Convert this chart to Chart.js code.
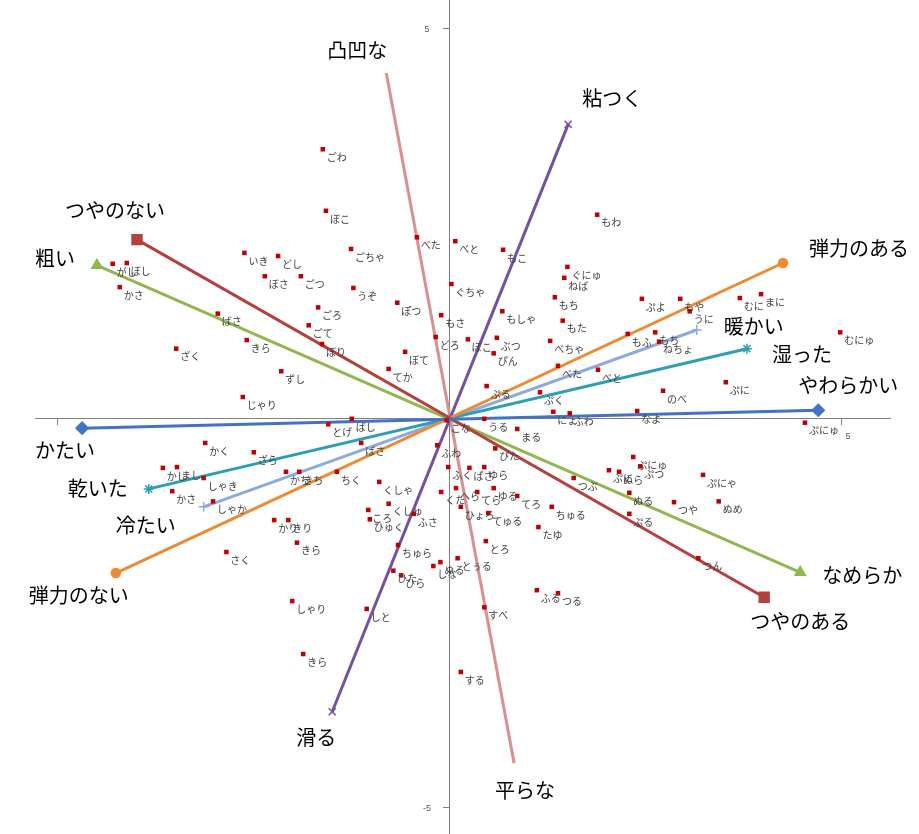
<!DOCTYPE html>
<html>
<head>
<meta charset="utf-8">
<script src="https://cdn.jsdelivr.net/npm/chart.js@4"></script>
<style>
  body { margin: 0; background: #fff; }
  #wrap { width: 919px; height: 834px; }
</style>
</head>
<body>
<div id="wrap"><canvas id="biplot"></canvas></div>
<script>
// 語のスコア (第1軸, 第2軸)
var words = ['ごわ','ぼこ','ごちゃ','べた','べと','ぐちゃ','ごつ','うぞ','いき','どし',
  'がし','ぼし','かさ','ぼさ','ごろ','ごて','ぼり','ばさ','きら','ざく',
  'ずし','じゃり','ぽつ','もさ','どろ','ぼこ','ぶつ','ぴん','ぼて','てか',
  'ぷる','ぷく','もしゃ','もち','もた','べちゃ','もわ','もこ','ぐにゅ','ねば',
  'ぷよ','もふ','べた','べと','もや','うに','むに','まに','もち','ねちょ',
  'むにゅ','ぷに','のべ','なよ','ぷにゅ','にょ','ふわ','うる','こな','かく',
  'ざら','かし','まし','しゃき','かさ','しゃか','かち','きち','かり','きり',
  'きら','さく','ちく','とげ','ばし','ばさ','くしゃ','くしゅ','ころ','ひゅく',
  'ふさ','ちゅら','ひた','ひら','しと','しゃり','きら','ふわ','まる','ぴた',
  'ふく','ぱさ','ゆら','くた','へら','てら','ゆる','てろ','ひょろ','てゅる',
  'ちゅる','たゆ','とろ','しな','ぬる','とぅる','ふる','つる','すべ','する',
  'つぶ','ぷにゅ','ぷに','ぬら','ぷつ','ぬる','ぷる','つや','ぷにゃ','ぬめ','つん'];
var wordX = [-1.61,-1.57,-1.25,-0.41,0.08,0.03,-1.89,-1.22,-2.61,-2.18,
  -4.29,-4.11,-4.20,-2.35,-1.67,-1.79,-1.62,-2.95,-2.58,-3.48,
  -2.14,-2.63,-0.66,-0.10,-0.17,0.24,0.61,0.57,-0.56,-0.77,
  0.48,1.16,0.68,1.35,1.45,1.29,1.89,0.69,1.51,1.47,
  2.46,2.28,1.39,1.90,2.95,3.07,3.71,3.98,2.63,2.68,
  4.99,3.53,2.73,2.40,4.54,1.33,1.54,0.45,-0.03,-3.11,
  -2.49,-3.65,-3.47,-3.13,-3.53,-3.01,-2.08,-1.91,-2.23,-2.05,
  -1.94,-2.84,-1.43,-1.54,-1.24,-1.12,-0.89,-0.77,-1.03,-1.01,
  -0.45,-0.65,-0.71,-0.61,-1.05,-2.00,-1.86,-0.15,0.87,0.59,
  -0.01,0.26,0.45,-0.10,0.09,0.36,0.57,0.87,0.15,0.50,
  1.31,1.14,0.47,-0.20,-0.11,0.11,1.12,1.39,0.45,0.15,
  1.59,2.35,2.04,2.17,2.44,2.30,2.30,2.87,3.24,3.44,3.18];
var wordY = [3.45,2.66,2.17,2.32,2.27,1.72,1.82,1.67,2.12,2.08,
  1.98,1.99,1.68,1.82,1.42,1.19,0.95,1.34,1.00,0.89,
  0.60,0.27,1.48,1.32,1.04,1.01,1.03,0.83,0.85,0.63,
  0.41,0.33,1.37,1.55,1.25,0.99,2.61,2.16,1.94,1.80,
  1.53,1.08,0.67,0.62,1.53,1.37,1.54,1.59,1.10,0.98,
  1.10,0.46,0.35,0.09,-0.06,0.08,0.06,-0.01,-0.03,-0.32,
  -0.44,-0.64,-0.63,-0.77,-0.94,-1.07,-0.69,-0.69,-1.31,-1.31,
  -1.60,-1.72,-0.69,-0.08,-0.01,-0.32,-0.82,-1.10,-1.18,-1.30,
  -1.23,-1.63,-1.96,-2.02,-2.45,-2.35,-3.03,-0.35,-0.14,-0.39,
  -0.63,-0.64,-0.63,-0.95,-0.90,-0.95,-0.90,-1.00,-1.14,-1.22,
  -1.14,-1.40,-1.58,-1.90,-1.85,-1.80,-2.21,-2.25,-2.43,-3.26,
  -0.77,-0.50,-0.67,-0.69,-0.62,-0.96,-1.23,-1.08,-0.73,-1.07,-1.80];

// 形容詞ベクトル (両端)
var vecNameA = ['やわらかい','つやのある','なめらか','弾力のある','湿った','暖かい','粘つく','平らな'];
var vecNameB = ['かたい','つやのない','粗い','弾力のない','乾いた','冷たい','滑る','凸凹な'];
var vecAX = [4.71, 4.02, 4.48, 4.26, 3.80, 3.16, 1.52, 0.83];
var vecAY = [0.10, -2.30, -1.98, 1.99, 0.89, 1.13, 3.77, -4.43];
var vecBX = [-4.68, -3.98, -4.49, -4.25, -3.83, -3.13, -1.49, -0.80];
var vecBY = [-0.13, 2.29, 1.96, -1.99, -0.91, -1.14, -3.77, 4.43];

var yTicks = [5, -5];
var xTicks = [5];

// 見た目
var vecColors = ['#4472C4','#B5403D','#92B650','#EE8A34','#2E9EB5','#8FAADC','#7452A0','#D9908E'];
var vecMarks = ['rectRot','rect','triangle','circle','star','cross','crossRot',false];
var vecMarkR = [6, 7, 6, 4.5, 5, 5, 5, 0];
var labOffA = [[30,-25],[36,24],[62,3],[76,-15],[55,6],[57,-4],[44,-26],[11,27]];
var labOffB = [[-17,22],[-22,-29],[-42,-7],[-37,22],[-51,0],[-58,19],[-16,26],[-29,-23]];

var datasets = [{
  label: 'words',
  data: words.map(function (w, i) { return { x: wordX[i], y: wordY[i] }; }),
  pointStyle: 'rect',
  pointRadius: 3.2,
  backgroundColor: '#C00000',
  borderWidth: 0,
  showLine: false
}];
vecNameA.forEach(function (n, i) {
  datasets.push({
    label: n,
    data: [{ x: vecBX[i], y: vecBY[i] }, { x: vecAX[i], y: vecAY[i] }],
    showLine: true,
    borderColor: vecColors[i],
    borderWidth: 3,
    backgroundColor: vecColors[i],
    pointStyle: vecMarks[i],
    pointRadius: vecMarkR[i],
    pointBorderColor: vecColors[i],
    pointBackgroundColor: vecColors[i],
    pointBorderWidth: 1.5
  });
});

var labelPlugin = {
  id: 'labels',
  afterDatasetsDraw: function (chart) {
    var ctx = chart.ctx;
    var sx = chart.scales.x, sy = chart.scales.y;
    var ox = sx.getPixelForValue(0), oy = sy.getPixelForValue(0);
    ctx.save();
    // 目盛ラベル
    ctx.font = '9px "Liberation Sans"';
    ctx.fillStyle = '#595959';
    ctx.textAlign = 'center';
    ctx.textBaseline = 'middle';
    yTicks.forEach(function (v) {
      ctx.fillText(String(v), ox - 22, sy.getPixelForValue(v) + 1);
    });
    xTicks.forEach(function (v) {
      ctx.fillText(String(v), sx.getPixelForValue(v) + 7, oy + 19);
    });
    // 語ラベル
    var meta = chart.getDatasetMeta(0);
    ctx.font = '10px "Noto Sans CJK JP"';
    ctx.fillStyle = '#404040';
    ctx.textAlign = 'left';
    meta.data.forEach(function (el, i) {
      ctx.fillText(words[i], el.x + 4, el.y + 8);
    });
    // 形容詞ラベル
    ctx.font = '20px "Noto Sans CJK JP"';
    ctx.fillStyle = '#000';
    ctx.textAlign = 'center';
    for (var i = 0; i < vecNameA.length; i++) {
      var m = chart.getDatasetMeta(i + 1);
      var b = m.data[0], a = m.data[1];
      ctx.fillText(vecNameA[i], a.x + labOffA[i][0], a.y + labOffA[i][1]);
      ctx.fillText(vecNameB[i], b.x + labOffB[i][0], b.y + labOffB[i][1]);
    }
    ctx.restore();
  }
};

new Chart(document.getElementById('biplot').getContext('2d'), {
  type: 'scatter',
  data: { datasets: datasets },
  options: {
    responsive: true,
    maintainAspectRatio: false,
    animation: false,
    layout: { autoPadding: false, padding: { left: 35, right: 29, top: 0, bottom: 0 } },
    plugins: { legend: { display: false }, tooltip: { enabled: false } },
    scales: {
      x: {
        type: 'linear',
        position: { y: 0 },
        min: -5.281,
        max: 5.625,
        border: { color: '#808080', width: 1 },
        grid: { drawOnChartArea: false, drawTicks: true, tickLength: 6, color: '#808080' },
        ticks: { display: false, stepSize: 5, includeBounds: false }
      },
      y: {
        type: 'linear',
        position: { x: 0 },
        min: -5.340,
        max: 5.366,
        border: { color: '#808080', width: 1 },
        grid: { drawOnChartArea: false, drawTicks: true, tickLength: 6, color: '#808080' },
        ticks: { display: false, stepSize: 5, includeBounds: false }
      }
    }
  },
  plugins: [labelPlugin]
});
</script>
</body>
</html>
